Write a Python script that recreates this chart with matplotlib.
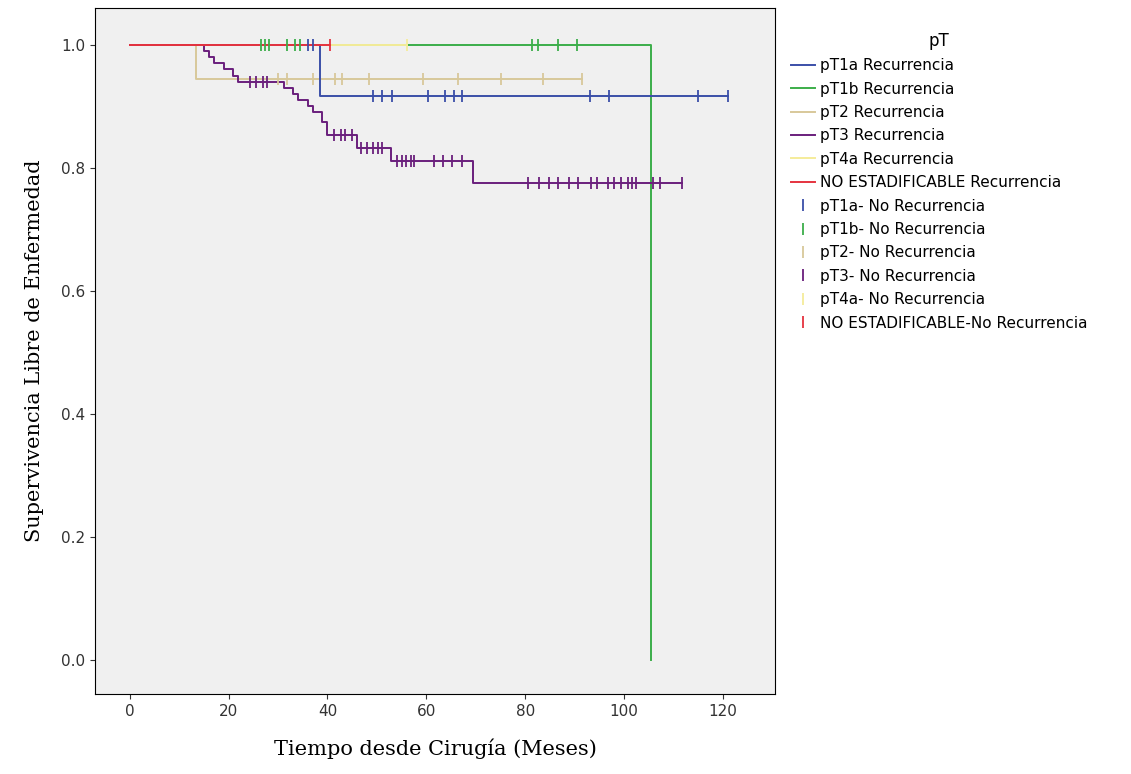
import numpy as np
import matplotlib
matplotlib.use("Agg")
import matplotlib.pyplot as plt

# step curves: (event times, survival after each event)
pt1a_t = [0, 38.5]
pt1a_s = [1.0, 0.917]
pt1a_cens_t = [36.1, 37.0, 49.3, 51, 53, 60.3, 63.8, 65.5, 67.2, 93, 97, 115, 121]
pt1a_cens_s = [1.0, 1.0] + [0.917] * 11

pt1b_t = [0, 105.5]
pt1b_s = [1.0, 0.0]
pt1b_cens_t = [26.5, 27.4, 28.2, 31.8, 33.4, 34.4, 81.4, 82.6, 86.6, 90.5]

pt2_t = [0, 13.5]
pt2_s = [1.0, 0.944]
pt2_cens_t = [30, 31.8, 37, 41.5, 43, 48.4, 59.3, 66.4, 75, 83.6, 91.5]

pt3_t = [0, 15, 16, 17, 19, 21, 22, 31.3, 33, 34, 36, 37, 38.8, 40, 46, 52.8, 69.5]
pt3_s = [1.0, 0.99, 0.98, 0.97, 0.96, 0.95, 0.94, 0.93, 0.92, 0.91, 0.90, 0.89,
         0.875, 0.854, 0.833, 0.811, 0.776]
pt3_cens_t = [24.3, 25.6, 26.9, 27.8,
              41.4, 42.7, 43.6, 44.9,
              46.7, 48, 49.3, 50.2, 51,
              54.1, 55, 55.9, 56.8, 57.6, 61.6, 63.4, 65.1, 67.3,
              80.5, 82.7, 84.9, 86.6, 88.8, 90.6, 93.2, 94.5, 96.7, 98, 99.4,
              100.7, 101.5, 102.4, 105.9, 107.3, 111.6]
pt3_cens_s = [0.94] * 4 + [0.854] * 4 + [0.833] * 5 + [0.811] * 9 + [0.776] * 17

pt4a_t = [0, 56]
pt4a_s = [1.0, 1.0]
pt4a_cens_t = [56]

ne_t = [0, 40.5]
ne_s = [1.0, 1.0]
ne_cens_t = [40.5]

c_blue = "#3b4fa8"
c_green = "#3cae4a"
c_tan = "#d8c89a"
c_purple = "#6a1f7c"
c_yellow = "#f5ec9a"
c_red = "#e5333f"

fig = plt.figure(figsize=(11.31, 7.74), dpi=100)
ax = fig.add_axes([95 / 1131, 80 / 774, 680 / 1131, 686 / 774])
ax.set_facecolor("#f0f0f0")

def km(t, s, end, color, label, z):
    ax.step(list(t) + [end], list(s) + [s[-1]], where="post", color=color, lw=1.4,
            label=label, zorder=z)

km(pt1a_t, pt1a_s, 121, c_blue, "pT1a Recurrencia", 4)
km(pt1b_t, pt1b_s, 105.5, c_green, "pT1b Recurrencia", 2)
km(pt2_t, pt2_s, 91.5, c_tan, "pT2 Recurrencia", 1)
km(pt3_t, pt3_s, 111.6, c_purple, "pT3 Recurrencia", 5)
km(pt4a_t, pt4a_s, 56, c_yellow, "pT4a Recurrencia", 3)
km(ne_t, ne_s, 40.5, c_red, "NO ESTADIFICABLE Recurrencia", 6)

ms = dict(marker="|", linestyle="none", markersize=8, markeredgewidth=1.3, zorder=7)
ax.plot(pt1a_cens_t, pt1a_cens_s, color=c_blue, label="pT1a- No Recurrencia", **ms)
ax.plot(pt1b_cens_t, [1.0] * len(pt1b_cens_t), color=c_green, label="pT1b- No Recurrencia", **ms)
ax.plot(pt2_cens_t, [0.944] * len(pt2_cens_t), color=c_tan, label="pT2- No Recurrencia", **ms)
ax.plot(pt3_cens_t, pt3_cens_s, color=c_purple, label="pT3- No Recurrencia", **ms)
ax.plot(pt4a_cens_t, [1.0], color=c_yellow, label="pT4a- No Recurrencia", **ms)
ax.plot(ne_cens_t, [1.0], color=c_red, label="NO ESTADIFICABLE-No Recurrencia", **ms)

ax.set_xlim(-7, 130.5)
ax.set_ylim(-0.056, 1.06)
ax.set_xticks(range(0, 121, 20))
ax.set_yticks(np.arange(0, 1.01, 0.2))
ax.yaxis.set_major_formatter(matplotlib.ticker.FormatStrFormatter("%.1f"))
ax.tick_params(labelsize=11, colors="#333333")
ax.set_xlabel("Tiempo desde Cirugía (Meses)", family="DejaVu Serif", fontsize=15, labelpad=14)
ax.set_ylabel("Supervivencia Libre de Enfermedad", family="DejaVu Serif", fontsize=15, labelpad=12)

h, l = ax.get_legend_handles_labels()
order = ["pT1a Recurrencia", "pT1b Recurrencia", "pT2 Recurrencia", "pT3 Recurrencia",
         "pT4a Recurrencia", "NO ESTADIFICABLE Recurrencia", "pT1a- No Recurrencia",
         "pT1b- No Recurrencia", "pT2- No Recurrencia", "pT3- No Recurrencia",
         "pT4a- No Recurrencia", "NO ESTADIFICABLE-No Recurrencia"]
hd = dict(zip(l, h))
leg = fig.legend([hd[k] for k in order], order, loc="upper left",
                 bbox_to_anchor=(777 / 1131, 1 - 18 / 774), frameon=False,
                 title="pT", fontsize=11, title_fontsize=12,
                 handlelength=1.6, handletextpad=0.3, labelspacing=0.55)

fig.savefig("out.png", dpi=100)
